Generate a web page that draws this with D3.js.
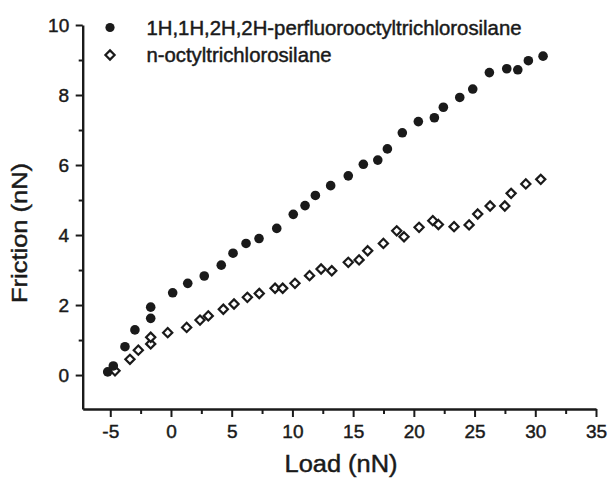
<!DOCTYPE html>
<html>
<head>
<meta charset="utf-8">
<script src="https://cdn.jsdelivr.net/npm/d3@7"></script>
<style>
	body { margin: 0; background: #fff; }
	text { font-family: "Liberation Sans", Arial, sans-serif; fill: #1a1a1a; stroke: #1a1a1a; stroke-width: 0.45px; }
</style>
</head>
<body>
<svg></svg>
<script>
const SVG_WIDTH = 609;
const SVG_HEIGHT = 478;
const LEFT = 82.7;
const RIGHT = 596;
const TOP = 25;
const BOTTOM = 409;

// perfluorooctyltrichlorosilane (filled circles)
const fluoroLoad = [-5.21, -4.75, -3.79, -2.97, -1.67, -1.67, 0.14, 1.38, 2.74, 4.14, 5.11, 6.18, 7.25, 8.71,
	10.07, 11.04, 11.89, 13.15, 14.6, 15.84, 17.03, 17.82, 19.05, 20.37, 21.69, 22.43, 23.78, 24.85,
	26.22, 27.65, 28.56, 29.43, 30.64];
const fluoroFriction = [0.09, 0.26, 0.81, 1.29, 1.62, 1.94, 2.35, 2.62, 2.83, 3.14, 3.48, 3.76, 3.9, 4.19,
	4.59, 4.84, 5.13, 5.41, 5.69, 6.02, 6.14, 6.46, 6.92, 7.24, 7.35, 7.65, 7.93, 8.17,
	8.64, 8.75, 8.72, 8.98, 9.11];

// n-octyltrichlorosilane (open diamonds)
const octylLoad = [-4.61, -3.38, -2.69, -1.67, -1.67, -0.27, 1.29, 2.39, 3.07, 4.31, 5.19, 6.29, 7.27, 8.57,
	9.2, 10.21, 11.41, 12.36, 13.24, 14.6, 15.49, 16.2, 17.49, 18.59, 19.19, 20.43, 21.56, 22.02,
	23.31, 24.55, 25.26, 26.28, 27.49, 28.01, 29.22, 30.45];
const octylFriction = [0.12, 0.45, 0.71, 0.89, 1.08, 1.21, 1.36, 1.57, 1.69, 1.88, 2.03, 2.22, 2.33, 2.48,
	2.48, 2.62, 2.84, 3.03, 2.98, 3.22, 3.29, 3.55, 3.76, 4.12, 3.95, 4.22, 4.41, 4.3,
	4.24, 4.29, 4.6, 4.83, 4.83, 5.19, 5.46, 5.59];

const xTicks = [-5, 0, 5, 10, 15, 20, 25, 30, 35];
const xMinorTicks = [-2.5, 2.5, 7.5, 12.5, 17.5, 22.5, 27.5, 32.5];
const yTicks = [0, 2, 4, 6, 8, 10];
const yMinorTicks = [1, 3, 5, 7, 9];
const legendNames = ["1H,1H,2H,2H-perfluorooctyltrichlorosilane", "n-octyltrichlorosilane"];

const svg = d3.select("svg")
	.attr("width", SVG_WIDTH)
	.attr("height", SVG_HEIGHT);

const xScale = d3.scaleLinear().domain([-7.27, 35]).range([LEFT, RIGHT]);
const yScale = d3.scaleLinear().domain([-0.97, 10]).range([BOTTOM, TOP]);

const ink = "#1a1a1a";

// minor ticks first, then the major axis on top
svg.append("g")
	.attr("transform", "translate(0," + BOTTOM + ")")
	.call(d3.axisBottom(xScale).tickValues(xMinorTicks).tickSize(5).tickFormat(""))
	.call(g => g.select(".domain").remove())
	.call(g => g.selectAll("line").attr("stroke", ink).attr("stroke-width", 2));
svg.append("g")
	.attr("transform", "translate(" + LEFT + ",0)")
	.call(d3.axisLeft(yScale).tickValues(yMinorTicks).tickSize(4).tickFormat(""))
	.call(g => g.select(".domain").remove())
	.call(g => g.selectAll("line").attr("stroke", ink).attr("stroke-width", 2));

const xAxis = svg.append("g")
	.attr("transform", "translate(0," + BOTTOM + ")")
	.call(d3.axisBottom(xScale).tickValues(xTicks).tickSize(8).tickSizeOuter(0).tickPadding(8));
const yAxis = svg.append("g")
	.attr("transform", "translate(" + LEFT + ",0)")
	.call(d3.axisLeft(yScale).tickValues(yTicks).tickSize(7).tickSizeOuter(0).tickPadding(6.5));

[xAxis, yAxis].forEach(function(a) {
	a.attr("font-size", 19).attr("font-family", null);
	a.select(".domain").attr("stroke", ink).attr("stroke-width", 2.4);
	a.selectAll(".tick line").attr("stroke", ink).attr("stroke-width", 2);
	a.selectAll(".tick text").attr("fill", ink);
});
xAxis.selectAll(".tick text").text(d => d < 0 ? "-" + Math.abs(d) : d);

// axis titles
svg.append("text")
	.attr("x", 341).attr("y", 472)
	.attr("text-anchor", "middle")
	.attr("font-size", 23)
	.attr("textLength", 113).attr("lengthAdjust", "spacingAndGlyphs")
	.text("Load (nN)");
svg.append("text")
	.attr("transform", "translate(27,233) rotate(-90)")
	.attr("text-anchor", "middle")
	.attr("font-size", 22)
	.attr("textLength", 140).attr("lengthAdjust", "spacingAndGlyphs")
	.text("Friction (nN)");

// data points
const fluoro = fluoroLoad.map((x, i) => ({x: x, y: fluoroFriction[i]}));
const octyl = octylLoad.map((x, i) => ({x: x, y: octylFriction[i]}));
const diamond = "M0,-4.6L4.6,0L0,4.6L-4.6,0Z";

svg.append("g").selectAll("path")
	.data(octyl)
	.enter()
	.append("path")
	.attr("d", diamond)
	.attr("transform", d => "translate(" + xScale(d.x) + "," + yScale(d.y) + ")")
	.attr("fill", "#fff")
	.attr("stroke", ink)
	.attr("stroke-width", 2.2);

svg.append("g").selectAll("circle")
	.data(fluoro)
	.enter()
	.append("circle")
	.attr("cx", d => xScale(d.x))
	.attr("cy", d => yScale(d.y))
	.attr("r", 4.8)
	.attr("fill", ink);

// legend
const legend = svg.append("g");
legend.append("circle").attr("cx", 110).attr("cy", 27.5).attr("r", 4.6).attr("fill", ink);
legend.append("path").attr("d", diamond)
	.attr("transform", "translate(110,55)")
	.attr("fill", "#fff").attr("stroke", ink).attr("stroke-width", 2.2);
legend.append("text")
	.attr("x", 146.5).attr("y", 34.5)
	.attr("font-size", 19.5)
	.attr("textLength", 375).attr("lengthAdjust", "spacingAndGlyphs")
	.text(legendNames[0]);
legend.append("text")
	.attr("x", 146.5).attr("y", 62)
	.attr("font-size", 19.5)
	.attr("textLength", 185).attr("lengthAdjust", "spacingAndGlyphs")
	.text(legendNames[1]);
</script>
</body>
</html>
